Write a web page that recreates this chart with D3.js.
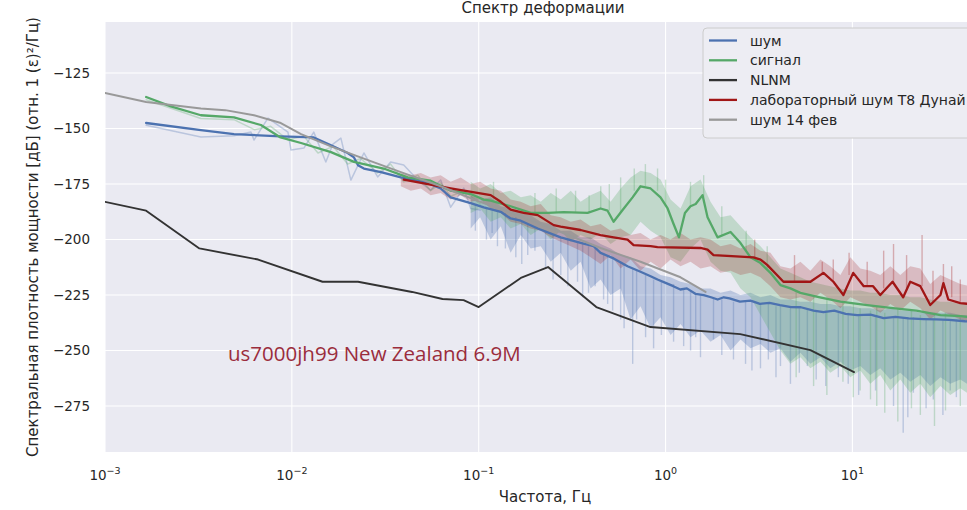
<!DOCTYPE html>
<html><head><meta charset="utf-8">
<script src="https://cdn.jsdelivr.net/npm/d3@7"></script>
<style>body{margin:0;background:#fff;}svg{display:block;}</style>
</head><body>
<svg id="chart" width="967" height="510"></svg>
<script>
// ---------------- DATA (frequency Hz, dB) ----------------
const title = "Спектр деформации";
const xLabel = "Частота, Гц";
const yLabel = "Спектральная плотность мощности [дБ] (отн. 1 (ε)²/Гц)";
const annotation = "us7000jh99 New Zealand 6.9M";
const legendLabels = ["шум", "сигнал", "NLNM", "лабораторный шум T8 Дунай", "шум 14 фев"];
const xTickExp = [-3, -2, -1, 0, 1];
const yTicks = [-275, -250, -225, -200, -175, -150, -125];

const noiseSmooth = [[0.00166,-147.5],[0.00326,-150.7],[0.0049,-152.5],[0.0087,-153.5],[0.0131,-154],[0.0162,-157.5],[0.0199,-161],[0.0215,-163],[0.0226,-166.5],[0.0243,-168],[0.030,-169.6],[0.0383,-172],[0.0533,-174.5],[0.0626,-177],[0.0708,-181],[0.0906,-183.6],[0.1064,-185.5],[0.1312,-187.5],[0.1482,-190.5],[0.168,-191.5],[0.207,-195],[0.2746,-199],[0.351,-201.5],[0.412,-203],[0.449,-206],[0.527,-208.5],[0.626,-212],[0.7345,-214.5],[0.8318,-216.5],[0.906,-218],[1.0,-219.5],[1.1,-221],[1.2,-222.5],[1.3,-222],[1.45,-224.5],[1.6,-225],[1.75,-226],[1.9,-227],[2.05,-226],[2.2,-226.5],[2.5,-228],[2.85,-227.5],[3.2,-229],[3.6,-228.5],[4.1,-229.5],[4.7,-230.4],[5.3,-230.5],[6.2,-232],[7.0,-232.7],[8.0,-232],[9.2,-233.5],[10.6,-234],[12.5,-233.8],[14.7,-235.4],[17,-234.8],[20,-235.5],[24,-235.8],[28,-236],[33,-236.2],[40,-236.8],[48,-237]];

const signalSmooth = [[0.00166,-135.8],[0.00225,-140],[0.00326,-144],[0.0049,-145],[0.00683,-148.4],[0.0087,-154],[0.0112,-156.5],[0.0162,-160.6],[0.0215,-165],[0.031,-168],[0.0417,-172],[0.0553,-173.5],[0.0708,-178],[0.0906,-179.5],[0.1064,-182],[0.1159,-182.5],[0.1482,-185],[0.19,-188],[0.234,-188],[0.285,-187.6],[0.3826,-188],[0.449,-186],[0.4895,-187],[0.527,-192],[0.589,-186.7],[0.666,-181],[0.7345,-176],[0.8318,-177],[0.94,-181],[1.026,-186],[1.104,-193],[1.18,-199],[1.27,-188],[1.36,-185],[1.45,-184],[1.578,-180],[1.678,-190],[1.897,-199],[2.228,-196.6],[2.519,-201.6],[2.849,-208],[3.222,-210.6],[3.642,-215],[4.12,-220.5],[4.66,-222],[5.27,-224],[6.7,-226],[8.63,-228],[12,-229.5],[16,-230.8],[22,-232],[29.6,-234],[38,-234.5],[48,-235.5]];

const nlnm = [[0.001,-183],[0.00166,-187],[0.0032,-204],[0.0066,-209],[0.0146,-219],[0.0226,-219],[0.044,-223.6],[0.064,-226.8],[0.083,-227.3],[0.1,-230.4],[0.168,-217.3],[0.235,-212.4],[0.426,-230.4],[0.83,-239.4],[2.51,-242.6],[5.96,-249.8],[10.2,-259.7]];

const labSmooth = [[0.0397,-173],[0.0708,-177],[0.1159,-180],[0.1312,-183],[0.1482,-186.5],[0.1741,-188],[0.207,-189],[0.252,-193.5],[0.2746,-194.2],[0.351,-195.7],[0.449,-198],[0.527,-199],[0.626,-200],[0.6744,-202.5],[0.8318,-203],[0.9057,-203.4],[1.538,-203.8],[1.678,-204.5],[1.806,-207],[2.956,-208],[3.222,-209],[3.51,-211.5],[4.276,-219],[5.96,-219],[7.0,-215],[7.91,-219],[8.95,-225],[10.1,-215],[11.5,-221],[12.9,-221],[14.1,-225],[16.4,-219],[18.7,-226],[20.4,-219],[23.1,-221],[26.1,-229.5],[29.6,-225],[30.7,-219.6],[32.6,-227],[37.8,-228.6],[48,-229.5]];

const feb14Smooth = [[0.001,-134],[0.00166,-138],[0.00326,-141],[0.0044,-141.7],[0.00627,-144],[0.00873,-147.5],[0.0112,-152.5],[0.0162,-158],[0.0233,-163],[0.0383,-169.6],[0.0626,-176],[0.1018,-183],[0.168,-189.5],[0.2746,-196.6],[0.449,-203.8],[0.7345,-210],[1.203,-217],[1.637,-223.6]];

// raw (unsmoothed) spectra, low-frequency part
const noiseRawLow = [[0.00166,-148.5],[0.00326,-153.8],[0.0049,-153.2],[0.00604,-151.6],[0.00627,-155.2],[0.00745,-145.3],[0.00953,-151.6],[0.0099,-159.7],[0.0116,-158.8],[0.0131,-151.6],[0.0152,-165.1],[0.0166,-157],[0.0183,-154.3],[0.0207,-173.2],[0.0243,-161],[0.0288,-171.8],[0.0338,-165.1],[0.0397,-166.4],[0.0472,-173.2],[0.0553,-177.7],[0.0626,-173.2],[0.0708,-185.4],[0.0832,-176.8],[0.0906,-186],[0.1018,-186.7]];
const signalRawLow = [[0.00166,-137],[0.00326,-145.5],[0.0049,-146],[0.0063,-150.5],[0.0077,-149],[0.0095,-155],[0.0116,-153.5],[0.0138,-161],[0.0166,-158],[0.0199,-166],[0.0233,-163.5],[0.0288,-170],[0.0338,-166],[0.0397,-174],[0.0472,-171],[0.0553,-178],[0.0626,-174.5],[0.0708,-180.5],[0.0832,-178],[0.1018,-184]];

// raw spectra, dense part: frequency grid with upper / lower extent
const bandFreq = [0.0906,0.1018,0.1159,0.1312,0.1482,0.168,0.1898,0.2148,0.243,0.2746,0.311,0.351,0.397,0.449,0.508,0.575,0.650,0.7345,0.8318,0.94,1.064,1.203,1.361,1.538,1.741,1.969,2.228,2.519,2.849,3.222,3.642,4.12,4.659,5.27,5.96,6.74,7.62,8.63,9.75,11.03,12.47,14.1,15.96,18.05,20.4,23.1,26.1,29.6,33.4,37.8,42.8,48.3];
const noiseRawHi = [-180,-182,-181,-185,-186,-188,-189,-192,-193,-196,-196,-199,-199,-202,-204,-207,-208,-212,-213,-216,-217,-219,-220,-222,-222,-224,-223,-225,-224,-226,-225,-227,-227,-228,-228,-229,-229,-230,-230,-231,-231,-232,-231,-232,-232,-233,-233,-233,-233,-234,-234,-234];
const noiseRawLo = [-195,-190,-200,-194,-206,-198,-204,-203,-210,-206,-214,-210,-222,-218,-225,-222,-236,-230,-240,-235,-243,-238,-244,-241,-246,-243,-250,-245,-249,-247,-251,-249,-255,-251,-256,-253,-258,-255,-259,-257,-261,-258,-263,-260,-264,-261,-266,-262,-265,-263,-266,-264];
const signalRawHi = [-174,-177,-175,-179,-178,-181,-180,-183,-179,-182,-178,-183,-180,-178,-183,-177,-172,-169,-170,-173,-182,-186,-176,-173,-183,-190,-189,-194,-199,-203,-208,-213,-215,-217,-219,-220,-221,-222,-223,-223,-224,-224,-225,-225,-226,-226,-227,-228,-228,-229,-229,-230];
const signalRawLo = [-188,-186,-192,-190,-195,-193,-198,-195,-200,-196,-201,-198,-200,-197,-202,-199,-198,-192,-196,-199,-208,-210,-204,-200,-210,-214,-215,-222,-226,-234,-242,-250,-256,-253,-258,-255,-260,-257,-262,-259,-265,-261,-268,-263,-269,-265,-271,-266,-270,-267,-270,-268];
const labFreqLow = [0.0383,0.0433,0.049,0.0553,0.0626,0.0708,0.0801];
const labRawHi = [-170,-171,-170,-172,-171,-174,-172,-175,-174,-177,-178,-182,-183,-185,-184,-189,-190,-192,-191,-194,-193,-196,-195,-198,-197,-200,-198,-200,-197,-200,-199,-200,-203,-202,-204,-202,-205,-206,-212,-213,-210,-214,-209,-212,-216,-208,-213,-214,-216,-212,-216,-212,-213,-220,-216,-218,-220,-221,-222];
const labRawLo = [-176,-178,-177,-180,-179,-182,-180,-183,-182,-186,-188,-192,-193,-195,-196,-199,-201,-203,-205,-208,-211,-207,-213,-209,-214,-210,-213,-209,-212,-210,-213,-212,-215,-214,-216,-215,-217,-221,-226,-227,-226,-228,-224,-227,-231,-226,-228,-230,-233,-229,-232,-228,-231,-236,-232,-234,-236,-237,-237];

// isolated raw spikes: [frequency, from dB, to dB]
const noiseSpikes = [[0.096,-184,-196],[0.110,-186,-200],[0.118,-187,-197],[0.126,-187,-203],[0.139,-188,-204],[0.158,-190,-208],[0.17,-192,-211],[0.183,-193,-207],[0.2,-195,-205],[0.228,-196,-213],[0.25,-198,-218],[0.275,-199,-216],[0.3,-200,-221],[0.338,-201,-219],[0.36,-202,-226],[0.387,-203,-224],[0.42,-204,-221],[0.466,-206,-227],[0.49,-207,-229],[0.521,-208,-232],[0.575,-210,-236],[0.6,-211,-240],[0.667,-213,-256],[0.7,-214,-236],[0.782,-216,-244],[0.863,-218,-249],[0.95,-219,-243],[1.104,-220,-246],[1.25,-222,-248],[1.361,-223,-250],[1.45,-224,-244],[1.538,-225,-253],[1.806,-226,-245],[2.0,-227,-252],[2.31,-228,-254],[2.68,-228,-256],[2.9,-228,-259],[3.222,-229,-258],[3.55,-229,-254],[3.9,-230,-262],[4.12,-230,-257],[4.66,-230,-265],[5.2,-231,-260],[5.74,-231,-257],[6.4,-232,-263],[7.2,-232,-266],[8.41,-233,-262],[9.5,-233,-265],[10.8,-234,-270],[13.3,-234,-268],[16.6,-235,-275],[18.7,-235,-287],[19.8,-235,-280],[21.2,-235,-269],[24.8,-236,-276],[27.1,-236,-272],[30.5,-236,-279],[33.4,-236,-268],[36,-236,-271],[44,-237,-274]];
const signalSpikes = [[0.12,-182,-174],[0.2,-188,-179],[0.26,-188,-177],[0.33,-188,-178],[0.39,-188,-180],[0.45,-186,-176],[0.5,-187,-175],[0.575,-188,-172],[0.68,-178,-168],[0.78,-176,-166],[0.906,-178,-168],[1.0,-184,-173],[1.36,-185,-174],[1.6,-181,-171],[2.0,-198,-185],[2.7,-205,-196],[3.5,-213,-203],[5.0,-223,-262],[6.2,-225,-266],[7.3,-226,-270],[8.9,-228,-264],[10.1,-229,-271],[11.0,-231,-268],[12.5,-232,-272],[13.5,-230,-275],[14.9,-233,-278],[17.5,-231,-282],[20.7,-232,-276],[23.1,-234,-279],[27.5,-233,-284],[31.5,-233,-277],[37.8,-235,-275],[42,-235,-279]];
const labSpikes = [[3.0,-208,-200],[4.9,-219,-207],[6.9,-216,-210],[7.9,-219,-209],[9.6,-216,-206],[12,-221,-210],[14.7,-222,-205],[16.6,-220,-202],[19.5,-222,-207],[23.6,-221,-198],[27,-228,-214],[30.7,-220,-211],[34,-226,-212],[37.8,-228,-218]];

// ---------------- DRAW ----------------
const svg = d3.select("#chart");
const M = {l:105, t:22, r:983, b:452};
const x = d3.scaleLog().domain([0.001, 50]).range([M.l, M.r]);
const y = d3.scaleLinear().domain([-295.7, -102]).range([M.b, M.t]);
const FONT = "DejaVu Sans, Verdana, sans-serif";
const TXT = "#262626";

const col = {noise:"#4c72b0", signal:"#55a868", nlnm:"#333333", lab:"#a11616", feb:"#999999"};

svg.append("rect").attr("width",967).attr("height",510).attr("fill","#fff");
svg.append("rect").attr("x",M.l).attr("y",M.t).attr("width",M.r-M.l).attr("height",M.b-M.t).attr("fill","#eaeaf2");

svg.append("defs").append("clipPath").attr("id","clip")
  .append("rect").attr("x",M.l).attr("y",M.t).attr("width",M.r-M.l).attr("height",M.b-M.t);

// grid
const grid = svg.append("g");
xTickExp.forEach(e => {
  grid.append("line").attr("x1",x(Math.pow(10,e))).attr("x2",x(Math.pow(10,e)))
    .attr("y1",M.t).attr("y2",M.b).attr("stroke","#fff").attr("stroke-width",1.1);
});
yTicks.forEach(v => {
  grid.append("line").attr("x1",M.l).attr("x2",M.r).attr("y1",y(v)).attr("y2",y(v))
    .attr("stroke","#fff").attr("stroke-width",1.1);
});

const plot = svg.append("g").attr("clip-path","url(#clip)");
const line = d3.line().x(d=>x(d[0])).y(d=>y(d[1]));
const area = d3.area().x(d=>x(d[0])).y0(d=>y(d[2])).y1(d=>y(d[1]));

function band(freqs, hi, lo, color, op){
  const data = freqs.map((f,i)=>[f, hi[i], lo[i]]);
  plot.append("path").datum(data).attr("d",area).attr("fill",color).attr("fill-opacity",op);
}
function spikes(data, color, op){
  plot.append("g").selectAll("line").data(data).join("line")
    .attr("x1",d=>x(d[0])).attr("x2",d=>x(d[0])).attr("y1",d=>y(d[1])).attr("y2",d=>y(d[2]))
    .attr("stroke",color).attr("stroke-opacity",op).attr("stroke-width",1.4);
}
function path(data, color, w, op){
  plot.append("path").datum(data).attr("d",line).attr("fill","none")
    .attr("stroke",color).attr("stroke-width",w).attr("stroke-opacity",op===undefined?1:op)
    .attr("stroke-linejoin","round").attr("stroke-linecap","round");
}

// raw spectra
path(noiseRawLow, col.noise, 1.5, 0.3);
band(bandFreq, noiseRawHi, noiseRawLo, col.noise, 0.3);
spikes(noiseSpikes, col.noise, 0.3);
path(signalRawLow, col.signal, 1.5, 0.3);
band(bandFreq, signalRawHi, signalRawLo, col.signal, 0.28);
spikes(signalSpikes, col.signal, 0.3);
band(labFreqLow.concat(bandFreq), labRawHi, labRawLo, col.lab, 0.22);
spikes(labSpikes, col.lab, 0.3);

// smoothed spectra
path(noiseSmooth, col.noise, 2.3);
path(signalSmooth, col.signal, 2.3);
path(nlnm, col.nlnm, 1.9);
path(labSmooth, col.lab, 2.3);
path(feb14Smooth, col.feb, 2.0);

// axes tick labels
const xt = svg.append("g").attr("font-family",FONT).attr("fill",TXT);
xTickExp.forEach(e => {
  const t = xt.append("text").attr("x",x(Math.pow(10,e))).attr("y",480)
    .attr("text-anchor","middle").attr("font-size",13.5);
  t.append("tspan").text("10");
  t.append("tspan").attr("dy",-6).attr("font-size",9.5).text(e<0 ? "\u2212"+Math.abs(e) : String(e));
});
const yt = svg.append("g").attr("font-family",FONT).attr("fill",TXT);
yTicks.forEach(v => {
  yt.append("text").attr("x",90).attr("y",y(v)).attr("dy","0.36em").attr("text-anchor","end")
    .attr("font-size",13.5).text(v<0 ? "\u2212"+Math.abs(v) : String(v));
});

// labels
svg.append("text").attr("x",543).attr("y",13).attr("text-anchor","middle")
  .attr("font-family",FONT).attr("font-size",15).attr("fill",TXT).text(title);
svg.append("text").attr("x",545).attr("y",502).attr("text-anchor","middle")
  .attr("font-family",FONT).attr("font-size",15).attr("fill",TXT).text(xLabel);
svg.append("text").attr("transform","translate(38,237) rotate(-90)").attr("text-anchor","middle")
  .attr("font-family",FONT).attr("font-size",15).attr("fill",TXT).text(yLabel);

// annotation
svg.append("text").attr("x",x(0.00455)).attr("y",y(-251.2)).attr("dy","0.36em")
  .attr("font-family","Open Sans, Noto Sans, sans-serif").attr("font-size",20.5).attr("fill","#9b2d3c").text(annotation);

// legend
const lg = svg.append("g");
lg.append("rect").attr("x",703).attr("y",28).attr("width",300).attr("height",110).attr("rx",4)
  .attr("fill","#ededf3").attr("stroke","#cccccc").attr("stroke-width",1);
const lcols = [col.noise, col.signal, col.nlnm, col.lab, col.feb];
legendLabels.forEach((lab,i) => {
  const yy = 40.5 + i*19.8;
  lg.append("line").attr("x1",709).attr("x2",737).attr("y1",yy).attr("y2",yy)
    .attr("stroke",lcols[i]).attr("stroke-width",2.3);
  lg.append("text").attr("x",750).attr("y",yy).attr("dy","0.36em").attr("font-family",FONT)
    .attr("font-size",14).attr("fill",TXT).text(lab);
});
</script>
</body></html>
